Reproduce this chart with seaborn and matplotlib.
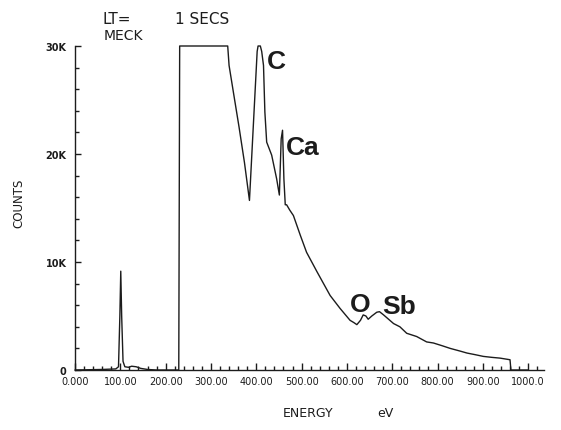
import matplotlib
matplotlib.use("Agg")
import matplotlib.pyplot as plt
from matplotlib.ticker import MultipleLocator
import pandas as pd
import seaborn as sns

# spectrum (counts clip at 30K)
energy_ev = [0, 60, 90, 96, 99, 101, 103, 106, 110, 118, 125, 135, 145, 160, 180,
             229, 231, 337, 340, 350, 362, 374, 385, 402, 404, 409, 412, 416, 419, 423,
             434, 445, 451, 455, 458, 461, 464, 467, 474, 482, 497, 511, 534, 563,
             585, 607, 615, 622, 630, 636, 642, 647, 655, 666, 672, 681, 703, 717,
             732, 754, 776, 791, 810, 828, 850, 865, 883, 901, 920, 938, 960, 962, 1000]
counts = [0, 50, 100, 300, 5000, 9150, 5000, 800, 300, 250, 350, 300, 150, 50, 0,
          0, 30000, 30000, 28200, 25600, 22500, 19200, 15700, 29500, 30000, 30000, 29500,
          28200, 23900, 21100, 19900, 17700, 16200, 21400, 22200, 17700, 15300,
          15300, 14800, 14300, 12500, 10900, 9100, 6900, 5700, 4600, 4400, 4200,
          4600, 5100, 5000, 4700, 5000, 5350, 5400, 5100, 4300, 4000, 3400, 3100,
          2600, 2500, 2250, 2000, 1750, 1570, 1420, 1260, 1170, 1100, 950, 0, 0]

x_ticks = [0, 100, 200, 300, 400, 500, 600, 700, 800, 900, 1000]
x_tick_labels = ["0.000", "100.00", "200.00", "300.00", "400.00", "500.00",
                 "600.00", "700.00", "800.00", "900.00", "1000.0"]
y_ticks = [0, 10000, 20000, 30000]
y_tick_labels = ["0", "10K", "20K", "30K"]

peak_names = ["C", "Ca", "O", "Sb"]
peak_x = [424, 465, 606, 677]
peak_y = [28000, 20000, 5450, 5300]

ink = "#1c1c1c"

sns.set_style("ticks")
plt.rcParams["font.family"] = ["DejaVu Sans"]

df = pd.DataFrame({"energy": energy_ev, "counts": counts})

fig = plt.figure(figsize=(5.61, 4.31), dpi=100)
ax = fig.add_axes([75 / 561, 60 / 431, 469 / 561, 324 / 431])

sns.lineplot(data=df, x="energy", y="counts", ax=ax, color=ink, linewidth=1.0,
             estimator=None, sort=False, clip_on=False)

ax.set_xlim(0, 1035)
ax.set_ylim(0, 30000)
sns.despine(ax=ax)
for side in ["left", "bottom"]:
    ax.spines[side].set_color(ink)
    ax.spines[side].set_linewidth(1.0)

ax.set_xticks(x_ticks)
ax.set_xticklabels(x_tick_labels, fontsize=7, color=ink)
ax.xaxis.set_minor_locator(MultipleLocator(20))
ax.set_yticks(y_ticks)
ax.set_yticklabels(y_tick_labels, fontsize=7, color=ink, fontweight="bold")
ax.yaxis.set_minor_locator(MultipleLocator(2000))

ax.tick_params(axis="x", which="major", direction="in", length=5, width=1, color=ink, pad=4)
ax.tick_params(axis="x", which="minor", direction="in", length=3, width=1, color=ink)
ax.tick_params(axis="y", which="major", direction="in", length=4, width=1, color=ink, pad=6)
ax.tick_params(axis="y", which="minor", direction="in", length=3, width=1, color=ink)

ax.set_xlabel("")
ax.set_ylabel("")

for name, px, py in zip(peak_names, peak_x, peak_y):
    ax.text(px, py, name, fontsize=19, fontweight="bold", color=ink,
            family=["Liberation Sans", "DejaVu Sans"], ha="left", va="baseline")

fig.text(102 / 561, 1 - 12 / 431, "LT=", fontsize=11, color=ink, va="top", ha="left")
fig.text(175 / 561, 1 - 12 / 431, "1 SECS", fontsize=11, color=ink, va="top", ha="left")
fig.text(104 / 561, 1 - 29 / 431, "MECK", fontsize=10, color=ink, va="top", ha="left")
fig.text(19 / 561, 1 - 203 / 431, "COUNTS", fontsize=8.5, color=ink, rotation=90,
         ha="center", va="center")
fig.text(283 / 561, 1 - 414 / 431, "ENERGY", fontsize=9, color=ink, ha="left", va="center")
fig.text(377 / 561, 1 - 414 / 431, "eV", fontsize=9, color=ink, ha="left", va="center")

fig.savefig("out.png", dpi=100, facecolor="white")
